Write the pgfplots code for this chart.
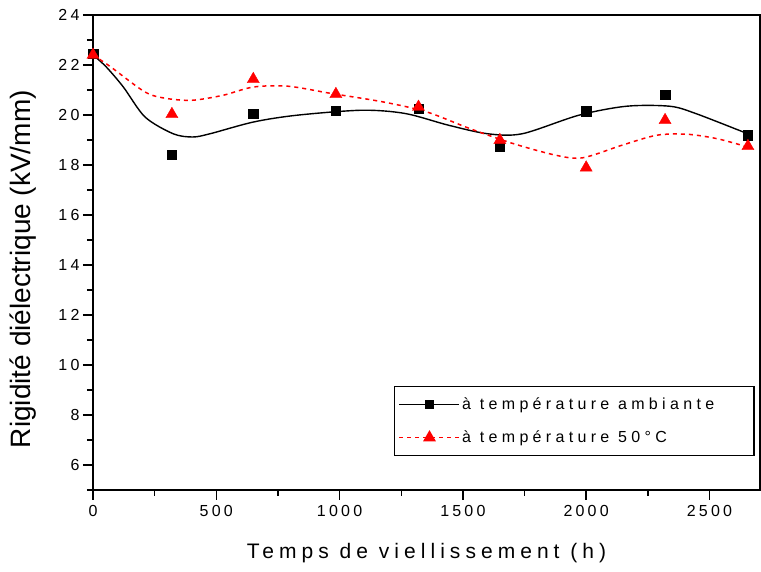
\documentclass[border=0pt]{standalone}
\usepackage{fontspec}
\setmainfont{Liberation Sans}
\newfontfamily\tickfont[LetterSpace=20]{Liberation Sans}
\newfontfamily\xlabfont[LetterSpace=24]{Liberation Sans}
\newfontfamily\legfont[LetterSpace=27]{Liberation Sans}
\usepackage{pgfplots}
\pgfplotsset{compat=1.18}
\begin{document}
\begin{tikzpicture}
\path[use as bounding box] (0pt,0pt) rectangle (761pt,572pt);
\begin{axis}[
  at={(93pt,82pt)}, anchor=south west,
  width=667pt, height=475pt, scale only axis,
  xmin=0, xmax=2705, ymin=5, ymax=24,
  xtick={0,500,...,2500}, minor xtick={250,750,...,2500},
  ytick={6,8,...,24}, minor ytick={5,7,...,23},
  xtick pos=bottom, ytick pos=left,
  tick align=outside,
  major tick length=10pt, minor tick length=6pt,
  axis line style={line width=1.5pt},
  every tick/.style={black, line width=1.4pt},
  /pgf/number format/assume math mode=true,
  /pgf/number format/1000 sep={},
  ticklabel style={font=\fontsize{16}{18}\tickfont},
  xticklabel style={yshift=-2pt},
  xlabel={Temps de viellissement (h)},
  xlabel style={font=\fontsize{21}{24}\xlabfont, at={(axis description cs:0.5,-0.132)}, anchor=center},
  ylabel={Rigidité diélectrique (kV/mm)},
  ylabel style={font=\fontsize{28}{32}\selectfont, at={(axis description cs:-0.105,0.465)}, anchor=center},
  legend cell align=left,
  legend style={at={(0.9925,0.219)}, anchor=north east, draw=black, line width=1.5pt,
    font=\fontsize{16}{18}\legfont, inner xsep=4pt, inner ysep=9pt, row sep=16pt},
]
% black fitted curve
\addplot[black, line width=1.4pt, smooth, forget plot] coordinates {
(0,22.4) (53,21.93) (123,21.12) (211,19.92) (325,19.25) (404,19.12) (475,19.25)
(651,19.72) (826,19.99) (1090,20.19) (1266,20.06) (1442,19.59) (1600,19.25)
(1741,19.25) (1970,19.99) (2163,20.35) (2339,20.35) (2444,20.06) (2655,19.25)
};
\addplot[only marks, mark=square*, mark size=4.7pt, black,
  legend image code/.code={
    \draw[black, line width=1.4pt] (0pt,0pt) -- (60pt,0pt);
    \draw[black] plot[mark=square*, mark size=4pt] coordinates {(30pt,0pt)};
  }] coordinates {
(0,22.45) (320,18.42) (650,20.06) (985,20.16) (1320,20.25) (1650,18.72)
(2000,20.15) (2320,20.82) (2656,19.19)
};
\addlegendentry{\makebox[286pt][l]{à température ambiante}}
% red fitted curve
\addplot[red, line width=1.5pt, dash pattern=on 4pt off 4pt, smooth, forget plot] coordinates {
(0,22.4) (71,21.93) (211,20.92) (299,20.66) (404,20.59) (528,20.79) (651,21.12)
(792,21.15) (967,20.86) (1178,20.52) (1354,20.12) (1530,19.45) (1706,18.85)
(1882,18.38) (1987,18.29) (2145,18.79) (2286,19.19) (2409,19.23) (2532,19.05) (2655,18.72)
};
\addplot[only marks, mark=triangle*, mark size=7pt, red,
  legend image code/.code={
    \draw[red, line width=1.5pt, dash pattern=on 4pt off 4pt] (0pt,0pt) -- (60pt,0pt);
    \draw[red] plot[mark=triangle*, mark size=6pt] coordinates {(30pt,0pt)};
  }] coordinates {
(0,22.4) (320,20.03) (650,21.43) (985,20.83) (1320,20.32) (1650,18.99)
(2000,17.89) (2320,19.79) (2656,18.75)
};
\addlegendentry{à température 50°C}
\end{axis}
\end{tikzpicture}
\end{document}
